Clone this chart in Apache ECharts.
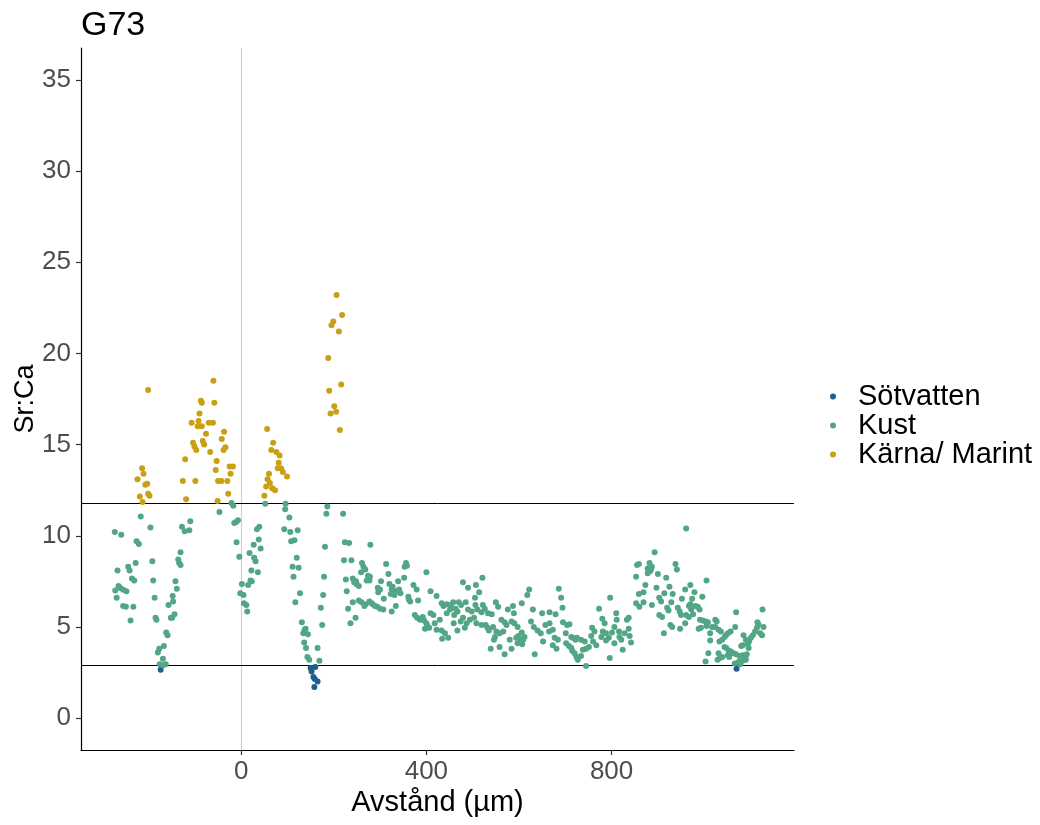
<!DOCTYPE html>
<html>
<head>
<meta charset="utf-8">
<script src="https://cdn.jsdelivr.net/npm/echarts@6/dist/echarts.min.js"></script>
<style>
  html, body { margin: 0; padding: 0; background: #ffffff; }
  #chart { width: 1040px; height: 825px; }
</style>
</head>
<body>
<div id="chart"></div>
<script>
// Sr:Ca profile along the otolith, coloured by habitat class
const chartTitle = 'G73';
const xTicks = [0, 400, 800];
const yTicks = [0, 5, 10, 15, 20, 25, 30, 35];
const thresholds = [11.8, 2.9];

// [distance (µm), Sr:Ca]
const sotvatten = [
  [-174, 2.65], [150, 2.75], [160, 2.8], [152, 2.55], [156, 2.25], [159, 2.15],
  [165, 2.0], [158, 1.7], [1070, 2.7]
];

const kust = [
  [-21, 11.8], [-17, 11.65], [-47, 11.3], [-217, 11.05], [-196, 10.45], [-273, 10.2],
  [-259, 10.05], [-226, 9.7], [-221, 9.55], [-128, 10.5], [-110, 10.8], [-122, 10.25],
  [-112, 10.3], [-11, 10.75], [-7, 10.85], [-15, 10.7], [-10, 9.65], [-4, 8.85],
  [-131, 9.1], [-136, 8.7], [-134, 8.5], [-131, 8.4], [-228, 8.5], [-244, 8.3],
  [-241, 8.1], [-267, 8.1], [-192, 8.6], [-236, 7.65], [-231, 7.55], [-190, 7.55],
  [-142, 7.5], [-265, 7.25], [-261, 7.13], [-255, 7.04], [-248, 6.95], [-272, 7.0],
  [-269, 6.6], [-139, 7.1], [-148, 6.7], [-147, 6.4], [-187, 6.6], [-157, 6.2],
  [-255, 6.15], [-249, 6.1], [-233, 6.1], [-239, 5.35], [-185, 5.5], [-183, 5.4],
  [-144, 5.7], [-152, 5.5], [-149, 5.5], [-162, 4.7], [-159, 4.55], [-167, 3.95],
  [-177, 3.8], [-180, 3.6], [-169, 3.25], [-176, 2.95], [-169, 2.9], [-163, 2.95],
  [52, 11.75], [96, 11.75], [95, 11.45], [104, 11.0], [186, 11.6], [184, 11.2],
  [220, 11.2], [39, 10.5], [34, 10.35], [93, 10.35], [106, 10.2], [122, 10.3],
  [108, 9.7], [115, 9.75], [27, 9.5], [42, 9.3], [38, 9.8], [181, 9.4],
  [18, 9.05], [28, 8.8], [31, 8.6], [120, 8.8], [124, 8.25], [111, 8.3],
  [113, 7.75], [222, 8.65], [22, 8.1], [36, 8.0], [179, 7.75], [20, 7.55],
  [23, 7.5], [15, 7.3], [1.5, 7.35], [-2, 6.85], [5, 6.75], [6, 6.3],
  [11, 6.2], [13, 5.85], [127, 6.85], [117, 6.35], [177, 6.75], [172, 6.05],
  [131, 5.25], [139, 4.9], [134, 4.65], [144, 4.6], [137, 4.85], [136, 4.15],
  [140, 3.85], [143, 3.35], [147, 3.2], [165, 3.85], [169, 3.15], [175, 5.1],
  [224, 9.65], [233, 9.6], [279, 9.5], [238, 8.65], [261, 8.5], [264, 8.3],
  [259, 8.0], [268, 8.15], [274, 7.8], [278, 7.75], [313, 8.45], [356, 8.5],
  [358, 8.35], [353, 8.3], [400, 8.0], [318, 7.9], [226, 7.6], [241, 7.65],
  [244, 7.45], [249, 7.35], [254, 7.25], [248, 7.5], [277, 7.55], [271, 7.55],
  [302, 7.5], [352, 7.7], [339, 7.5], [228, 6.95], [295, 7.15], [300, 7.05],
  [296, 6.9], [320, 7.35], [327, 7.2], [325, 7.05], [333, 6.95], [341, 7.05],
  [344, 6.85], [372, 7.3], [379, 7.05], [409, 6.95], [422, 6.7], [331, 6.75],
  [323, 6.8], [361, 6.65], [362, 6.5], [365, 6.4], [382, 6.45], [308, 6.55],
  [277, 6.4], [282, 6.3], [284, 6.25], [289, 6.15], [294, 6.1], [300, 6.0],
  [307, 5.95], [254, 6.45], [260, 6.35], [266, 6.15], [269, 6.25], [241, 6.35],
  [231, 6.0], [325, 5.85], [334, 6.15], [375, 5.65], [380, 5.5], [386, 5.4],
  [392, 5.55], [395, 5.35], [400, 5.2], [406, 4.95], [397, 4.9], [402, 5.05],
  [409, 5.75], [415, 5.65], [247, 5.5], [236, 5.2], [418, 5.2], [422, 4.85],
  [521, 7.7], [479, 7.45], [490, 7.15], [507, 7.3], [514, 6.9], [622, 7.05],
  [618, 6.75], [433, 6.3], [437, 6.15], [444, 6.25], [453, 6.2], [458, 6.35],
  [463, 6.0], [470, 6.35], [475, 6.2], [485, 6.35], [490, 5.95], [498, 5.85],
  [505, 6.6], [506, 6.2], [510, 5.95], [522, 6.2], [526, 6.0], [519, 5.8],
  [533, 5.75], [541, 5.7], [550, 6.35], [555, 6.1], [444, 5.75], [451, 5.95],
  [460, 5.65], [467, 5.85], [474, 5.3], [479, 5.5], [487, 5.2], [459, 5.2],
  [429, 5.4], [433, 4.8], [440, 4.65], [434, 4.35], [447, 4.4], [467, 4.8],
  [483, 4.95], [494, 5.4], [503, 5.5], [508, 5.2], [519, 5.1], [528, 5.1],
  [532, 4.95], [535, 4.8], [544, 5.0], [551, 4.75], [548, 4.45], [546, 4.3],
  [562, 5.4], [569, 5.25], [573, 5.1], [566, 4.75], [558, 4.65], [580, 4.3],
  [594, 4.4], [599, 4.5], [604, 4.25], [609, 4.3], [612, 4.45], [597, 4.1],
  [607, 4.05], [587, 6.15], [576, 5.95], [589, 5.75], [606, 6.3], [584, 5.3],
  [590, 5.2], [597, 5.0], [606, 4.7], [626, 5.3], [630, 5.95], [632, 5.0],
  [640, 4.8], [647, 4.65], [650, 5.75], [652, 4.2], [634, 3.5], [569, 3.5],
  [584, 3.8], [539, 3.8], [558, 3.9],
  [686, 7.1], [691, 6.6], [694, 6.05], [679, 5.7], [666, 5.8], [695, 5.25],
  [704, 5.1], [709, 5.15], [701, 4.65], [713, 4.45], [716, 4.4], [722, 4.3],
  [725, 4.4], [734, 4.3], [742, 4.2], [657, 5.1], [666, 5.2], [673, 4.85],
  [665, 4.75], [677, 4.4], [684, 4.3], [673, 4.0], [681, 3.8], [702, 4.1],
  [708, 3.95], [713, 3.85], [715, 3.7], [720, 3.55], [724, 3.35], [727, 3.2],
  [734, 3.4], [738, 3.75], [745, 3.8], [745, 2.85], [751, 3.9], [758, 4.95],
  [763, 4.75], [756, 4.5], [760, 4.2], [767, 4.0], [773, 6.0], [780, 5.45],
  [785, 5.2], [781, 4.75], [778, 4.45], [788, 4.65], [794, 4.4], [788, 4.25],
  [796, 3.3], [801, 4.7], [806, 5.0], [810, 5.75], [811, 5.4], [806, 4.1],
  [816, 4.75], [817, 4.45], [821, 4.3], [824, 3.75], [828, 4.65], [833, 5.4],
  [837, 5.5], [837, 4.9], [839, 4.5], [842, 4.15], [797, 6.6], [853, 7.75],
  [859, 6.8], [873, 7.3], [869, 6.9], [853, 6.3], [860, 6.1], [869, 6.35],
  [878, 7.95], [855, 8.4], [859, 8.45],
  [961, 10.4], [893, 9.1], [882, 8.5], [878, 8.2], [885, 8.15], [887, 8.3],
  [883, 8.05], [938, 8.45], [941, 8.15], [900, 7.9], [918, 7.7], [897, 7.15],
  [925, 7.2], [970, 7.3], [959, 7.05], [1005, 7.55], [979, 6.9], [996, 6.65],
  [932, 6.8], [914, 6.85], [903, 6.6], [907, 6.4], [929, 6.35], [952, 6.55],
  [974, 6.55], [970, 6.25], [887, 6.2], [920, 6.05], [923, 5.9], [943, 6.05],
  [947, 5.85], [950, 5.65], [967, 6.15], [972, 5.95], [976, 5.7], [981, 6.15],
  [986, 6.1], [990, 5.95], [903, 5.65], [909, 5.55], [961, 5.65], [967, 5.55],
  [959, 5.2], [927, 5.1], [931, 5.0], [948, 4.9], [913, 4.65], [991, 5.4],
  [997, 5.35], [1003, 5.3], [1008, 5.25], [988, 4.9], [993, 4.95], [1005, 5.05],
  [1017, 5.0], [1024, 5.4], [1027, 5.3], [1013, 4.65], [1013, 4.25], [1024, 5.0],
  [1031, 4.85], [1036, 4.75], [1047, 4.55], [1051, 4.65], [1057, 4.75], [1033, 4.2],
  [1039, 4.3], [1044, 4.45], [1067, 5.0], [1069, 5.8], [1085, 4.55], [1090, 4.3],
  [1094, 4.05], [1097, 4.2], [1101, 4.4], [1105, 4.55], [1110, 4.75], [1114, 4.95],
  [1117, 5.15], [1115, 5.25], [1121, 4.65], [1125, 4.55], [1128, 5.0], [1126, 5.95],
  [1044, 3.9], [1048, 3.85], [1053, 3.7], [1058, 3.65], [1063, 3.55], [1080, 3.95],
  [1083, 4.0], [1096, 3.85], [1009, 3.55], [1031, 3.55], [1034, 3.3], [1029, 3.2],
  [1039, 3.35], [1051, 3.45], [1054, 3.35], [1069, 3.5], [1076, 3.4], [1083, 3.45],
  [1089, 3.35], [1092, 3.5], [1076, 3.1], [1083, 3.15], [1090, 3.2], [1003, 3.1],
  [1066, 3.0], [1073, 3.05], [1078, 2.95]
];

const karnaMarint = [
  [-201, 18.0], [-60, 18.5], [-87, 17.4], [-85, 17.3], [-58, 17.3], [-90, 16.7],
  [-92, 16.3], [-107, 16.2], [-94, 16.0], [-85, 16.0], [-70, 16.2], [-61, 16.2],
  [-37, 15.7], [-76, 15.6], [-42, 15.3], [-83, 15.2], [-104, 15.1], [-101, 14.9],
  [-97, 14.7], [-80, 15.0], [-34, 14.85], [-38, 14.7], [-67, 14.6], [-121, 14.2],
  [-53, 14.1], [-25, 13.8], [-18, 13.8], [-55, 13.6], [-23, 13.4], [-214, 13.7],
  [-211, 13.4], [-224, 13.1], [-207, 12.8], [-203, 12.85], [-126, 13.0], [-99, 13.0],
  [-50, 13.0], [-43, 13.0], [-30, 13.0], [-219, 12.15], [-213, 11.85], [-201, 12.3],
  [-198, 12.2], [-119, 12.0], [-28, 12.3], [-51, 11.9],
  [206, 23.2], [218, 22.1], [199, 21.75], [195, 21.55], [211, 21.2], [188, 19.75],
  [216, 18.3], [190, 17.95], [201, 17.1], [205, 16.8], [193, 16.7], [213, 15.8],
  [56, 15.85], [69, 15.1], [65, 14.7], [76, 14.6], [83, 14.4], [81, 14.0],
  [79, 13.7], [86, 13.7], [90, 13.5], [99, 13.25], [60, 13.4], [57, 13.1],
  [62, 12.9], [54, 12.7], [67, 12.6], [73, 12.5], [50, 12.2]
];

const colors = { sotvatten: '#1F5F8B', kust: '#52A686', karna: '#C9A012' };
const font = '"Liberation Sans", Arial, sans-serif';

const chart = echarts.init(document.getElementById('chart'), null, { renderer: 'canvas' });

const pointStyle = (c) => ({ color: c, opacity: 1 });

chart.setOption({
  animation: false,
  backgroundColor: '#ffffff',
  title: {
    text: chartTitle,
    left: 81,
    top: 9,
    padding: 0,
    textStyle: { fontFamily: font, fontSize: 34, fontWeight: 'normal', color: '#000000' }
  },
  legend: {
    orient: 'vertical',
    left: 830,
    top: 382,
    itemWidth: 6,
    itemHeight: 6,
    itemGap: 0,
    icon: 'circle',
    padding: 0,
    textStyle: { fontFamily: font, fontSize: 29, color: '#000000', lineHeight: 27, padding: [0, 0, 0, 17] },
    data: ['Sötvatten', 'Kust', 'Kärna/ Marint']
  },
  grid: { left: 81, right: 246, top: 48, bottom: 75, containLabel: false, outerBoundsMode: 'none' },
  xAxis: {
    type: 'value',
    min: -346,
    max: 1194,
    name: 'Avstånd (µm)',
    nameLocation: 'middle',
    nameGap: 38,
    nameMoveOverlap: false,
    nameTextStyle: { fontFamily: font, fontSize: 29, color: '#000000' },
    splitLine: { show: false },
    axisLine: { show: true, onZero: false, lineStyle: { color: '#000000', width: 1.2 } },
    axisTick: { show: true, length: 5, customValues: xTicks, lineStyle: { color: '#333333', width: 1.2 } },
    axisLabel: { customValues: xTicks, margin: 9, fontFamily: font, fontSize: 26, color: '#4D4D4D' }
  },
  yAxis: {
    type: 'value',
    min: -1.75,
    max: 36.75,
    name: 'Sr:Ca',
    nameLocation: 'middle',
    nameGap: 42,
    nameRotate: 90,
    nameMoveOverlap: false,
    nameTextStyle: { fontFamily: font, fontSize: 27, color: '#000000' },
    splitLine: { show: false },
    axisLine: { show: true, onZero: false, lineStyle: { color: '#000000', width: 1.2 } },
    axisTick: { show: true, length: 5, customValues: yTicks, lineStyle: { color: '#333333', width: 1.2 } },
    axisLabel: { customValues: yTicks, margin: 10, fontFamily: font, fontSize: 26, color: '#4D4D4D' }
  },
  series: [
    {
      name: 'Sötvatten',
      type: 'scatter',
      symbolSize: 6,
      itemStyle: pointStyle(colors.sotvatten),
      data: sotvatten,
      z: 3,
      markLine: {
        silent: true,
        symbol: ['none', 'none'],
        label: { show: false },
        z: 1,
        data: [
          { xAxis: 0, lineStyle: { color: '#D0D0D0', width: 1.2, type: 'solid' } },
          { yAxis: thresholds[0], lineStyle: { color: '#000000', width: 1, type: 'solid' } },
          { yAxis: thresholds[1], lineStyle: { color: '#000000', width: 1, type: 'solid' } }
        ]
      }
    },
    {
      name: 'Kust',
      type: 'scatter',
      symbolSize: 6,
      itemStyle: pointStyle(colors.kust),
      data: kust,
      z: 3
    },
    {
      name: 'Kärna/ Marint',
      type: 'scatter',
      symbolSize: 6,
      itemStyle: pointStyle(colors.karna),
      data: karnaMarint,
      z: 3
    }
  ]
});
</script>
</body>
</html>
